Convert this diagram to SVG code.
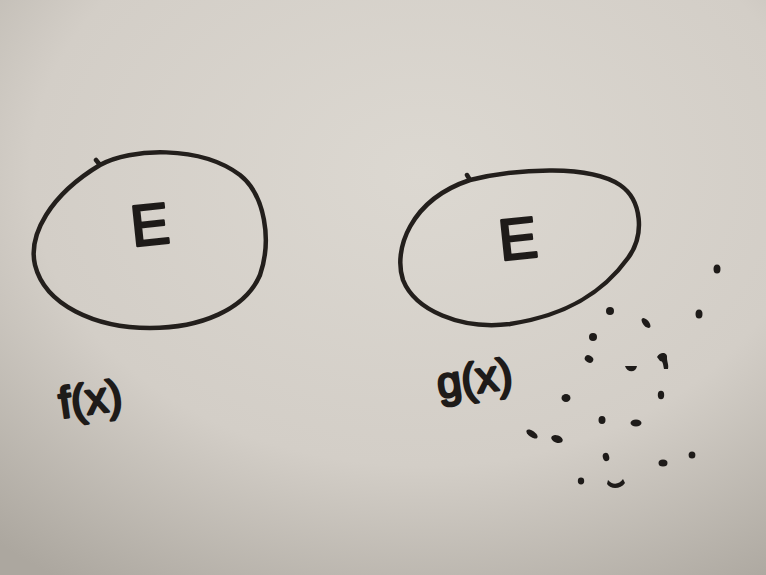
<svg xmlns="http://www.w3.org/2000/svg" width="766" height="575" viewBox="0 0 766 575">
<defs>
<radialGradient id="bg" cx="0.55" cy="0.3" r="0.85">
<stop offset="0" stop-color="#dcd8d1"/>
<stop offset="0.6" stop-color="#d3cec7"/>
<stop offset="1" stop-color="#aca79f"/>
</radialGradient>
<style>
.ring{fill:none;stroke:#231f1c;stroke-width:4.5;stroke-linecap:round;stroke-linejoin:round}
.lbl{font-family:"Liberation Sans",sans-serif;fill:#1e1b19;stroke:#1e1b19;stroke-width:2.5;stroke-linejoin:round}
.dot{fill:#1e1b19}
</style>
</defs>
<rect width="766" height="575" fill="url(#bg)"/>
<g id="set-f">
<path class="ring" d="M 100,165 C 130,148 200,145 240,175 C 265,195 272,240 260,275 C 245,310 200,328 150,328 C 95,328 45,305 35,265 C 28,235 50,195 100,165 Z M 100,165 L 96,160"/>
<text class="lbl" x="130" y="244" font-size="58" transform="rotate(-6 155 220)">E</text>
<text class="lbl" x="58" y="414" font-size="44" transform="rotate(-8 90 395)">f(x)</text>
</g>
<g id="set-g">
<path class="ring" d="M 470,180 C 520,168 590,165 620,185 C 642,200 645,235 628,258 C 605,290 570,315 510,324 C 460,330 415,310 403,280 C 393,250 410,200 470,180 Z M 470,180 L 467,175"/>
<text class="lbl" x="498" y="258" font-size="58" transform="rotate(-6 522 234)">E</text>
<text class="lbl" x="436" y="394" font-size="44" transform="rotate(-8 470 375)">g(x)</text>
</g>
<g id="dots">
<ellipse class="dot" cx="717" cy="269" rx="3.5" ry="4.5"/>
<ellipse class="dot" cx="610" cy="311" rx="4" ry="4"/>
<ellipse class="dot" cx="646" cy="323" rx="3" ry="6" transform="rotate(-40 646 323)"/>
<ellipse class="dot" cx="699" cy="314" rx="3.5" ry="4.5"/>
<ellipse class="dot" cx="593" cy="337" rx="4" ry="4"/>
<ellipse class="dot" cx="589" cy="359" rx="4.5" ry="3.5" transform="rotate(30 589 359)"/>
<path class="dot" d="M 657,357 C 660,351 668,352 667,358 C 667,362 669,365 668,369 L 664,369 C 663,364 663,361 660,361 Z"/>
<path class="dot" d="M 625,366 L 637,366 C 636,373 627,373 625,366 Z"/>
<ellipse class="dot" cx="566" cy="398" rx="4.5" ry="4"/>
<ellipse class="dot" cx="661" cy="395" rx="3.2" ry="4.2"/>
<ellipse class="dot" cx="602" cy="420" rx="3.5" ry="4"/>
<ellipse class="dot" cx="636" cy="423" rx="5.5" ry="3.5"/>
<ellipse class="dot" cx="532" cy="434" rx="6.5" ry="3.2" transform="rotate(35 532 434)"/>
<ellipse class="dot" cx="557" cy="439" rx="6" ry="3.6" transform="rotate(20 557 439)"/>
<ellipse class="dot" cx="606" cy="457" rx="3.2" ry="4.2" transform="rotate(-15 606 457)"/>
<ellipse class="dot" cx="692" cy="455" rx="3.4" ry="3.6"/>
<ellipse class="dot" cx="663" cy="463" rx="4.5" ry="3.5"/>
<ellipse class="dot" cx="581" cy="481" rx="3.2" ry="3.4"/>
<path class="dot" d="M 607,484 C 611,490 621,489 625,483 L 623,479 C 619,485 612,485 608,480 Z"/>
</g>
</svg>
